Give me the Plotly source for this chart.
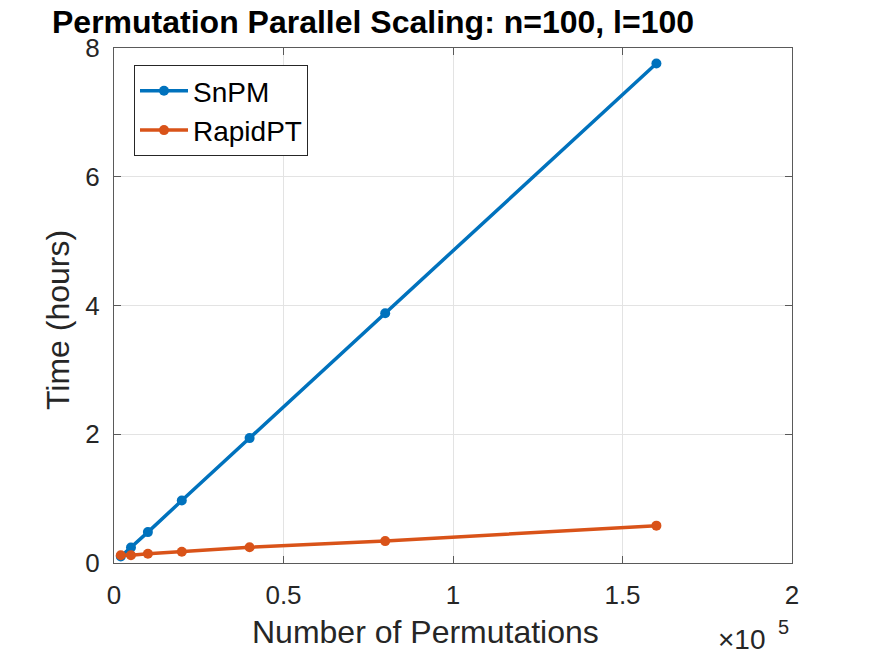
import plotly.graph_objects as go

# Data (x in permutations, y in hours)
permutations = [2000, 5000, 10000, 20000, 40000, 80000, 160000]
snpm_hours = [0.10, 0.24, 0.48, 0.97, 1.94, 3.88, 7.76]
rapidpt_hours = [0.12, 0.12, 0.145, 0.175, 0.245, 0.34, 0.58]
x_scale = 1e5
x_ticks = [0, 0.5, 1, 1.5, 2]
y_ticks = [0, 2, 4, 6, 8]

FONT = "Liberation Sans, Arial, Helvetica, sans-serif"
BLUE = "#0072BD"
ORANGE = "#D95319"
AX = "#262626"

fig = go.Figure()
fig.add_trace(go.Scatter(
    x=[p / x_scale for p in permutations], y=snpm_hours, name="SnPM",
    mode="lines+markers", line=dict(color=BLUE, width=3.5),
    marker=dict(color=BLUE, size=10)))
fig.add_trace(go.Scatter(
    x=[p / x_scale for p in permutations], y=rapidpt_hours, name="RapidPT",
    mode="lines+markers", line=dict(color=ORANGE, width=3.5),
    marker=dict(color=ORANGE, size=10)))

L, R, T, B = 114, 83, 48, 94
W, H = 875, 657
pw, ph = W - L - R, H - T - B

axis_common = dict(
    showgrid=True, gridcolor="#E3E3E3", gridwidth=1,
    showline=True, linecolor="#5a5a5a", linewidth=1.2, mirror="ticks",
    ticks="inside", ticklen=7, tickcolor="#5a5a5a",
    zeroline=False, tickfont=dict(family=FONT, size=26, color=AX),
)

fig.update_layout(
    width=W, height=H,
    margin=dict(l=L, r=R, t=T, b=B, pad=0),
    paper_bgcolor="white", plot_bgcolor="white",
    font=dict(family=FONT, color=AX),
    title=dict(text="<b>Permutation Parallel Scaling: n=100, l=100</b>",
               x=52 / W, xanchor="left", y=1 - 22 / H, yanchor="middle",
               font=dict(family=FONT, size=32, color="black")),
    xaxis=dict(range=[0, 2], tickvals=x_ticks, ticktext=[str(t) for t in x_ticks],
               ticklabelstandoff=9, **axis_common),
    yaxis=dict(range=[0, 8], tickvals=y_ticks, ticktext=[str(t) for t in y_ticks],
               ticklabelstandoff=8, **axis_common),
    legend=dict(x=(134 - L) / pw, y=1 - (65 - T) / ph, xanchor="left", yanchor="top",
                bordercolor=AX, borderwidth=1, bgcolor="white",
                font=dict(family=FONT, size=28, color="black"),
                itemwidth=48),
    showlegend=True,
)

def px_x(px):
    return (px - L) / pw

def px_y(py):
    return 1 - (py - T) / ph

fig.add_annotation(
    text="Number of Permutations", xref="paper", yref="paper",
    x=px_x(425), y=px_y(632), xanchor="center", yanchor="middle",
    showarrow=False, font=dict(family=FONT, size=32, color=AX))
fig.add_annotation(
    text="Time (hours)", xref="paper", yref="paper", textangle=-90,
    x=px_x(58), y=px_y(320), xanchor="center", yanchor="middle",
    showarrow=False, font=dict(family=FONT, size=32, color=AX))
fig.add_annotation(
    text="×10", xref="paper", yref="paper",
    x=px_x(742), y=px_y(640), xanchor="center", yanchor="middle",
    showarrow=False, font=dict(family=FONT, size=28, color=AX))
fig.add_annotation(
    text="5", xref="paper", yref="paper",
    x=px_x(783), y=px_y(627), xanchor="center", yanchor="middle",
    showarrow=False, font=dict(family=FONT, size=20, color=AX))

fig.write_html("out.html")
